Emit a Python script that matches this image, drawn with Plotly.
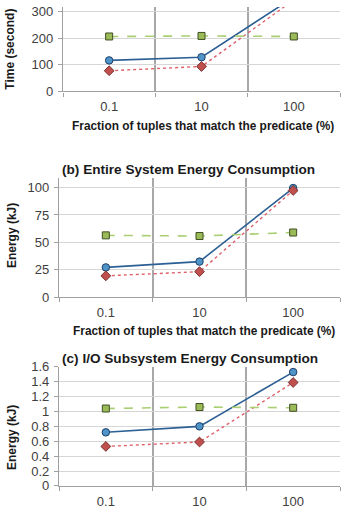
import plotly.graph_objects as go

categories = ["0.1", "10", "100"]

time_blue = [117, 129, 355]
time_red = [78, 94, 345]
time_green = [207, 209, 207]

sys_blue = [27.2, 32.5, 99.5]
sys_red = [19.5, 23.3, 97.3]
sys_green = [56.4, 55.8, 59.0]

io_blue = [0.72, 0.80, 1.53]
io_red = [0.53, 0.59, 1.39]
io_green = [1.04, 1.06, 1.05]

y_titles = ["Time (second)", "Energy (kJ)", "Energy (kJ)"]
panel_titles = ["(b) Entire System Energy Consumption", "(c) I/O Subsystem Energy Consumption"]
x_title = "Fraction of tuples that match the predicate (%)"

W, H = 345, 513
FONT = "Liberation Sans, Arial, sans-serif"

def py(p):
    return 1 - p / H

fig = go.Figure()

panels = [
    dict(data=(time_blue, time_red, time_green), xdom=(63, 340), ydom=(87, 0), rng=[0, 318], dtick=100),
    dict(data=(sys_blue, sys_red, sys_green), xdom=(59, 340), ydom=(299, 176), rng=[0, 108.8], dtick=25),
    dict(data=(io_blue, io_red, io_green), xdom=(59, 340), ydom=(493.3, 370.7), rng=[0, 1.6], dtick=0.2),
]

styles = [
    dict(line=dict(color="#2c5f95", width=1.6, dash="solid"),
         marker=dict(symbol="circle", size=7.5, color="#4f94c8", line=dict(color="#1f3f66", width=1))),
    dict(line=dict(color="#e0606a", width=1.4, dash="dot"),
         marker=dict(symbol="diamond", size=7.5, color="#c0504d", line=dict(color="#7a2f2d", width=1))),
    dict(line=dict(color="#a9cf72", width=1.6, dash="dash"),
         marker=dict(symbol="square", size=7, color="#9bbb59", line=dict(color="#3f4f22", width=1))),
]

for i, p in enumerate(panels):
    xa = "x" if i == 0 else f"x{i+1}"
    ya = "y" if i == 0 else f"y{i+1}"
    for s, vals in zip(styles, p["data"]):
        fig.add_trace(go.Scatter(x=categories, y=vals, mode="lines+markers", xaxis=xa, yaxis=ya,
                                 line=s["line"], marker=s["marker"], showlegend=False, cliponaxis=True))
    xkey = "xaxis" if i == 0 else f"xaxis{i+1}"
    ykey = "yaxis" if i == 0 else f"yaxis{i+1}"
    fig.layout[xkey] = dict(
        domain=[p["xdom"][0] / W, p["xdom"][1] / W], anchor=ya, type="category",
        tickson="boundaries", showgrid=True, gridcolor="#a8a8a8", gridwidth=1.5,
        showline=True, linecolor="#a0a0a0", linewidth=1.2, ticks="outside", ticklen=4,
        tickcolor="#a0a0a0", tickfont=dict(family=FONT, size=13, color="#404040"),
        range=[-0.5, 2.5], fixedrange=True, ticklabelstandoff=3,
    )
    fig.layout[ykey] = dict(
        domain=[py(p["ydom"][0]), py(p["ydom"][1])], anchor=xa, range=p["rng"], dtick=p["dtick"],
        showgrid=True, gridcolor="#d6d6d6", gridwidth=1, zeroline=False,
        showline=True, linecolor="#a0a0a0", linewidth=1.2, ticks="outside", ticklen=4,
        tickcolor="#a0a0a0", tickfont=dict(family=FONT, size=13, color="#404040"),
        fixedrange=True, ticklabelstandoff=2,
    )

ann = []
def add(text, x, y, size, angle=0):
    ann.append(dict(text=text, x=x / W, y=py(y), xref="paper", yref="paper", showarrow=False,
                    xanchor="center", yanchor="middle", textangle=angle,
                    font=dict(family=FONT, size=size, color="#1a1a1a")))

add("<b>" + x_title + "</b>", 203, 123, 11.9)
add("<b>" + x_title + "</b>", 204, 334, 11.9)
add("<b>" + panel_titles[0] + "</b>", 189, 167, 13.6)
add("<b>" + panel_titles[1] + "</b>", 190, 362, 13.6)
add("<b>" + y_titles[0] + "</b>", 10, 44, 12)
add("<b>" + y_titles[1] + "</b>", 12, 236, 12)
add("<b>" + y_titles[2] + "</b>", 12, 444, 12)
for a in ann[-3:]:
    a["textangle"] = -90

fig.update_layout(width=W, height=H, margin=dict(l=0, r=0, t=0, b=0),
                  paper_bgcolor="white", plot_bgcolor="white", annotations=ann)

fig.write_html("out.html")
